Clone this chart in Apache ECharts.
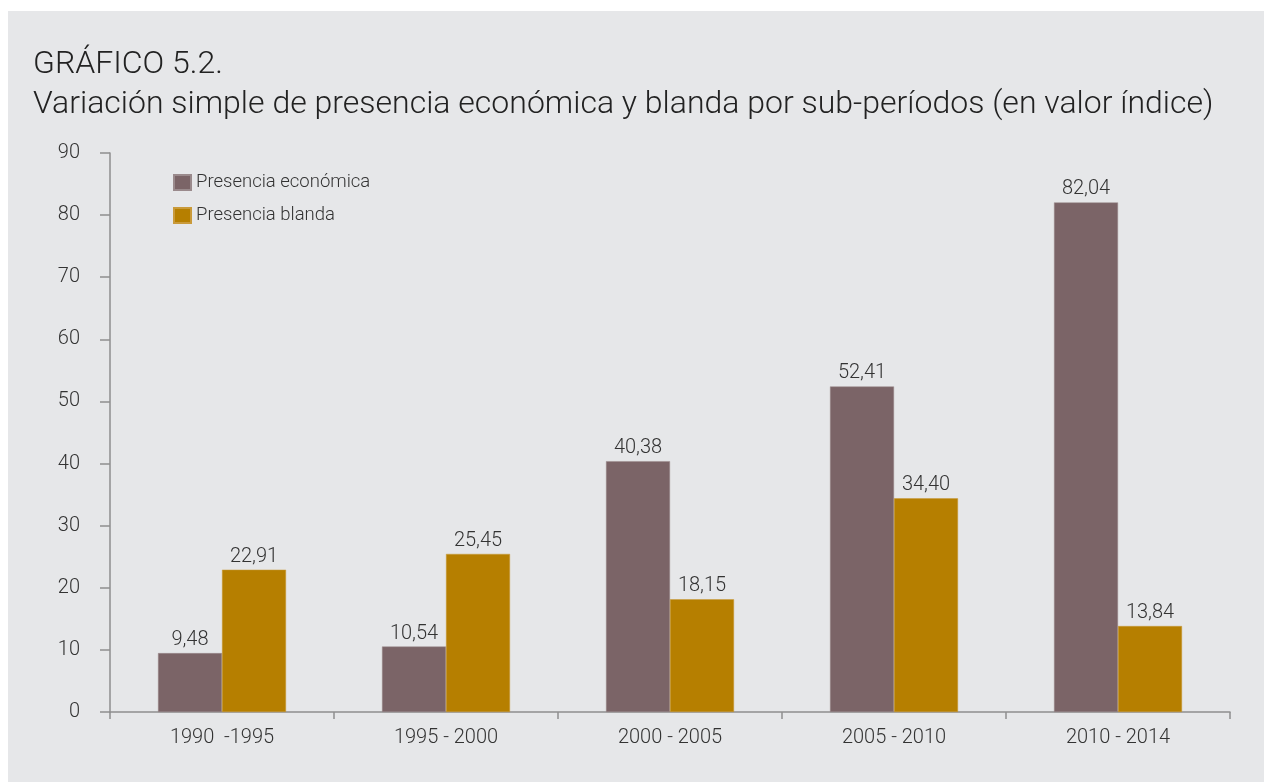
<!DOCTYPE html>
<html>
<head>
<meta charset="utf-8">
<style>
  html, body { margin: 0; padding: 0; background: #ffffff; }
  #chart { width: 1264px; height: 782px; }
</style>
<script src="https://cdn.jsdelivr.net/npm/echarts@6/dist/echarts.min.js"></script>
</head>
<body>
<div id="chart"></div>
<script>
// Sub-periods on the category axis
const periods = ['1990  -1995', '1995 - 2000', '2000 - 2005', '2005 - 2010', '2010 - 2014'];
// Index variation per sub-period
const economica = [9.48, 10.54, 40.38, 52.41, 82.04];
const blanda = [22.91, 25.45, 18.15, 34.40, 13.84];
const seriesNames = ['Presencia económica', 'Presencia blanda'];
const yTicks = { min: 0, max: 90, interval: 10 };

const FONT = 'Roboto, "Noto Sans", sans-serif';
const TEXT = '#333333';
const AXIS = '#8e8e8e';

const fmt = v => v.toFixed(2).replace('.', ',');

const chart = echarts.init(document.getElementById('chart'), null, { renderer: 'canvas' });

const barLabel = {
  show: true,
  position: 'top',
  distance: 3,
  color: TEXT,
  fontFamily: FONT,
  fontSize: 20,
  fontWeight: 300,
  formatter: p => fmt(p.value)
};

chart.setOption({
  backgroundColor: '#ffffff',
  animation: false,
  textStyle: { fontFamily: FONT },
  graphic: [{
    type: 'rect',
    z: -10,
    silent: true,
    shape: { x: 8, y: 11, width: 1256, height: 771 },
    style: { fill: '#e6e7e9' }
  }],
  title: {
    text: 'GRÁFICO 5.2.\nVariación simple de presencia económica y blanda por sub-períodos (en valor índice)',
    left: 28,
    top: 40,
    textStyle: {
      fontFamily: FONT,
      fontWeight: 300,
      fontSize: 32,
      lineHeight: 40,
      color: '#222222'
    }
  },
  legend: {
    orient: 'vertical',
    left: 173,
    top: 173,
    padding: 0,
    itemWidth: 17,
    itemHeight: 15,
    itemGap: 14,
    icon: 'rect',
    data: seriesNames,
    textStyle: {
      color: TEXT,
      fontFamily: FONT,
      fontSize: 18.5,
      fontWeight: 300,
      padding: [0, 0, 0, 0]
    }
  },
  grid: { left: 110, right: 34, top: 153, bottom: 70 },
  xAxis: {
    type: 'category',
    data: periods,
    axisLine: { lineStyle: { color: AXIS, width: 1.5 } },
    axisTick: { show: true, length: 7, lineStyle: { color: AXIS, width: 1.5 } },
    axisLabel: {
      color: TEXT,
      fontFamily: FONT,
      fontSize: 20,
      fontWeight: 300,
      margin: 16
    }
  },
  yAxis: {
    type: 'value',
    min: yTicks.min,
    max: yTicks.max,
    interval: yTicks.interval,
    splitLine: { show: false },
    axisLine: { show: true, lineStyle: { color: AXIS, width: 1.5 } },
    axisTick: { show: true, length: 10, lineStyle: { color: AXIS, width: 1.5 } },
    axisLabel: {
      color: TEXT,
      fontFamily: FONT,
      fontSize: 20,
      fontWeight: 300,
      margin: 30
    }
  },
  series: [
    {
      name: seriesNames[0],
      type: 'bar',
      data: economica,
      barWidth: 64,
      barGap: '0%',
      itemStyle: { color: '#7b6467', borderColor: '#9a8a8c', borderWidth: 0.5 },
      label: barLabel
    },
    {
      name: seriesNames[1],
      type: 'bar',
      data: blanda,
      barWidth: 64,
      barGap: '0%',
      itemStyle: { color: '#b67f00', borderColor: '#c99a3a', borderWidth: 0.5 },
      label: barLabel
    }
  ]
});
</script>
</body>
</html>
